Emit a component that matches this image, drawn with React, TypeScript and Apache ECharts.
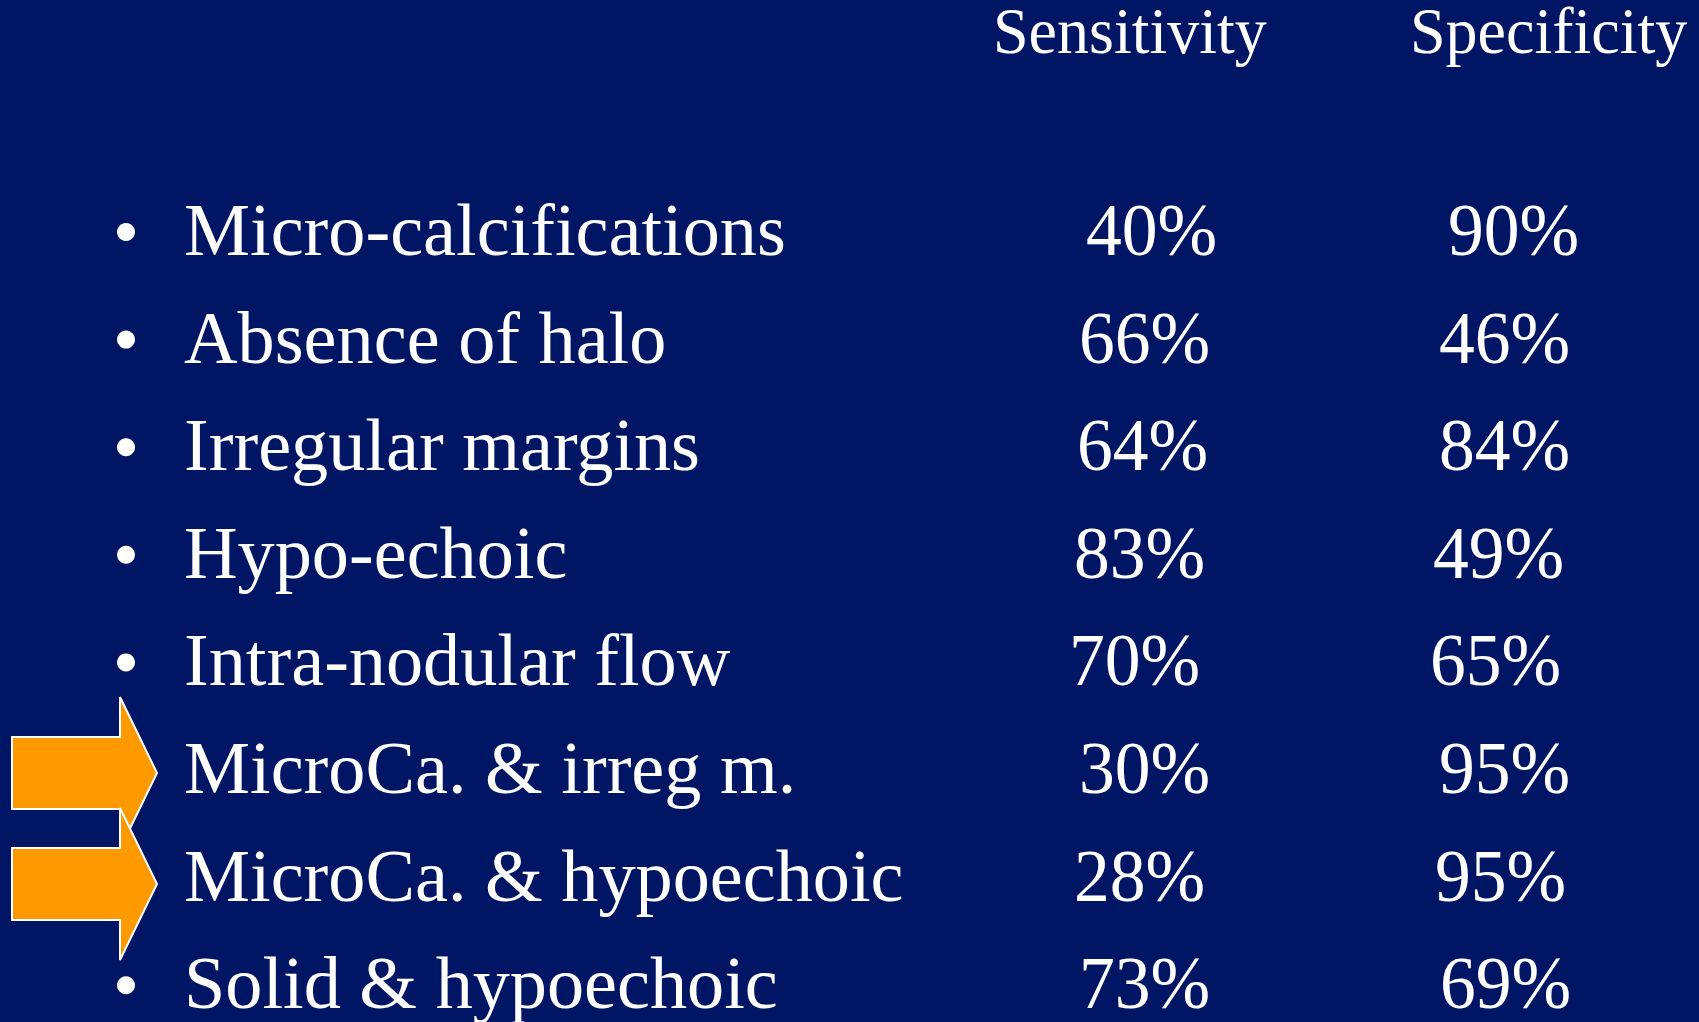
import React, { useEffect, useRef } from "react";
import * as echarts from "echarts";

// ---- data ----
const columnHeaders = ["Sensitivity", "Specificity"];
const features = [
  "Micro-calcifications",
  "Absence of halo",
  "Irregular margins",
  "Hypo-echoic",
  "Intra-nodular flow",
  "MicroCa. & irreg m.",
  "MicroCa. & hypoechoic",
  "Solid & hypoechoic",
];
const sensitivity = [40, 66, 64, 83, 70, 30, 28, 73];
const specificity = [90, 46, 84, 49, 65, 95, 95, 69];
const highlighted = [false, false, false, false, false, true, true, false];

// ---- layout / style ----
const W = 1699;
const H = 1022;
const BG = "#001563";
const FONT = '"Liberation Serif", "Times New Roman", serif';
const ROW_FONT = 75;
const HEAD_FONT = 66;
const FIRST_BASELINE = 255;
const ROW_STEP = 107.6;
const LABEL_X = 184;
const BULLET_X = 126;
const SENS_X = 1078;
const SPEC_X = 1438;
const HEAD_X = [993, 1410];
const HEAD_BASELINE = 53;
// small per-row horizontal nudges of the value columns (as laid out on the slide)
const sensNudge = [8, 1, -1, -4, -9, 1, -4, 1];
const specNudge = [10, 1, 1, -5, -8, 1, -3, 2];
const LABEL_SCALE = 0.99;
const VALUE_SCALE = 0.955;
const HEAD_SCALE = 0.97;

function midY(baseline: number, size: number) {
  return baseline - size * 0.335;
}

function arrowPoints(tipY: number) {
  const left = 12, neck = 120, tip = 157;
  const shaftHalf = 36, headHalf = 76;
  return [
    [left, tipY - shaftHalf],
    [neck, tipY - shaftHalf],
    [neck, tipY - headHalf],
    [tip, tipY],
    [neck, tipY + headHalf],
    [neck, tipY + shaftHalf],
    [left, tipY + shaftHalf],
  ];
}

export default function App() {
  const ref = useRef<HTMLDivElement>(null);
  useEffect(() => {
    document.body.style.margin = "0";
    document.body.style.background = BG;
    const chart = echarts.init(ref.current!, null, { renderer: "svg" });
    const elements: any[] = [];

    columnHeaders.forEach((h, i) => {
      elements.push({
        type: "text",
        x: HEAD_X[i],
        y: midY(HEAD_BASELINE, HEAD_FONT),
        scaleX: HEAD_SCALE,
        style: {
          text: h,
          font: `${HEAD_FONT}px ${FONT}`,
          lineHeight: 56,
          fill: "#ffffff",
          textAlign: "left",
          textVerticalAlign: "middle",
        },
      });
    });

    // arrows for highlighted rows
    const arrowTips = [773, 884];
    let a = 0;
    highlighted.forEach((h) => {
      if (h) {
        elements.push({
          type: "polygon",
          z: 10 + a,
          shape: { points: arrowPoints(arrowTips[a]) },
          style: { fill: "#FF9900", stroke: "#ffffff", lineWidth: 2 },
        });
        a++;
      }
    });

    features.forEach((f, i) => {
      const base = FIRST_BASELINE + ROW_STEP * i;
      const my = midY(base, ROW_FONT);
      if (!highlighted[i]) {
        elements.push({
          type: "circle",
          shape: { cx: BULLET_X, cy: base - 23, r: 9 },
          style: { fill: "#ffffff" },
        });
      }
      const common = {
        font: `${ROW_FONT}px ${FONT}`,
        lineHeight: 60,
        fill: "#ffffff",
        textAlign: "left",
        textVerticalAlign: "middle",
      };
      elements.push({ type: "text", x: LABEL_X, y: my, z: 20, scaleX: LABEL_SCALE, style: { ...common, text: f } });
      elements.push({
        type: "text", x: SENS_X + sensNudge[i], y: my, z: 20, scaleX: VALUE_SCALE,
        style: { ...common, text: `${sensitivity[i]}%` },
      });
      elements.push({
        type: "text", x: SPEC_X + specNudge[i], y: my, z: 20, scaleX: VALUE_SCALE,
        style: { ...common, text: `${specificity[i]}%` },
      });
    });

    chart.setOption({
      animation: false,
      backgroundColor: BG,
      graphic: { elements },
    });
    return () => chart.dispose();
  }, []);
  return <div ref={ref} style={{ width: W, height: H }} />;
}
